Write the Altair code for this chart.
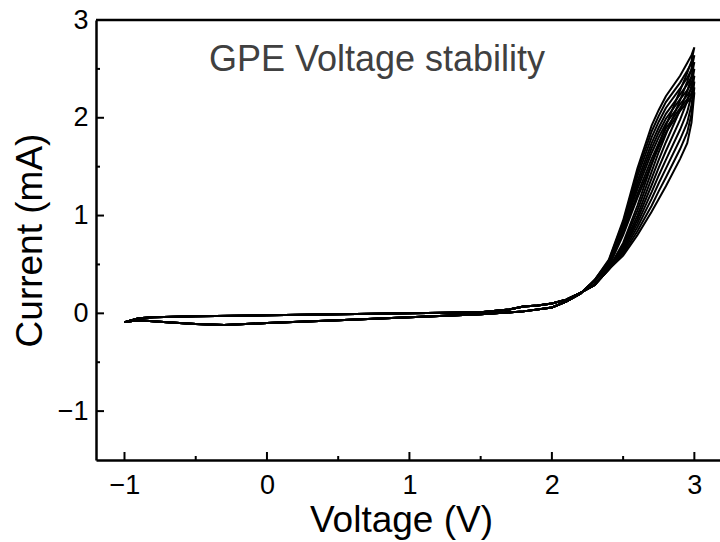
import altair as alt
import pandas as pd

# ---- data ----
V_high = [2.3, 2.4, 2.5, 2.6, 2.7, 2.75, 2.8, 2.9, 2.95, 2.98, 3.0]

# forward scans (increasing V), one list per cycle
fwd_high = [
    [0.29, 0.46, 0.72, 1.10, 1.52, 1.73, 1.92, 2.28, 2.46, 2.58, 2.72],
    [0.29, 0.46, 0.70, 1.05, 1.45, 1.65, 1.83, 2.18, 2.37, 2.50, 2.64],
    [0.29, 0.46, 0.68, 1.00, 1.38, 1.57, 1.75, 2.08, 2.27, 2.42, 2.57],
    [0.29, 0.46, 0.66, 0.96, 1.31, 1.49, 1.66, 1.98, 2.17, 2.33, 2.50],
    [0.29, 0.45, 0.65, 0.92, 1.24, 1.41, 1.57, 1.88, 2.06, 2.23, 2.43],
    [0.29, 0.45, 0.63, 0.88, 1.17, 1.33, 1.48, 1.78, 1.95, 2.13, 2.37],
    [0.29, 0.45, 0.61, 0.84, 1.10, 1.25, 1.39, 1.68, 1.85, 2.04, 2.31],
    [0.29, 0.45, 0.59, 0.80, 1.04, 1.17, 1.30, 1.58, 1.74, 1.95, 2.26],
]
# reverse scans, values listed at the same (increasing) V grid
rev_high = [
    [0.34, 0.55, 0.95, 1.48, 1.92, 2.08, 2.22, 2.43, 2.56, 2.64, 2.72],
    [0.34, 0.54, 0.93, 1.44, 1.86, 2.02, 2.16, 2.36, 2.48, 2.56, 2.64],
    [0.34, 0.53, 0.91, 1.40, 1.80, 1.96, 2.10, 2.30, 2.41, 2.49, 2.57],
    [0.33, 0.52, 0.89, 1.35, 1.74, 1.90, 2.04, 2.24, 2.34, 2.42, 2.50],
    [0.33, 0.51, 0.87, 1.31, 1.69, 1.85, 1.99, 2.19, 2.28, 2.36, 2.43],
    [0.33, 0.50, 0.85, 1.27, 1.64, 1.80, 1.94, 2.14, 2.23, 2.30, 2.37],
    [0.33, 0.49, 0.82, 1.22, 1.58, 1.74, 1.89, 2.10, 2.19, 2.25, 2.31],
    [0.33, 0.48, 0.80, 1.18, 1.53, 1.70, 1.85, 2.07, 2.16, 2.21, 2.26],
]

V_base_fwd = [-1.0, -0.9, -0.8, -0.5, 0.0, 0.5, 1.0, 1.5, 1.7, 1.8, 1.9, 2.0, 2.1, 2.2]
I_base_fwd = [-0.09, -0.05, -0.04, -0.03, -0.02, -0.01, 0.0, 0.01, 0.04, 0.07, 0.08, 0.10, 0.14, 0.21]
V_base_rev = [2.2, 2.1, 2.0, 1.8, 1.5, 1.0, 0.5, 0.0, -0.3, -0.5, -0.7, -0.9, -1.0]
I_base_rev = [0.20, 0.12, 0.06, 0.02, -0.01, -0.04, -0.07, -0.10, -0.12, -0.11, -0.09, -0.07, -0.09]

x_major = [-1, 0, 1, 2, 3]
x_minor = [-0.5, 0.5, 1.5, 2.5]
y_major = [-1, 0, 1, 2]
y_minor = [-0.5, 0.5, 1.5, 2.5]
y_labels = [-1, 0, 1, 2, 3]

# ---- build table ----
rows = []
for c, (f, r) in enumerate(zip(fwd_high, rev_high)):
    pts = list(zip(V_base_fwd, I_base_fwd)) + list(zip(V_high, f)) \
        + list(zip(V_high[::-1][1:], r[::-1][1:])) + list(zip(V_base_rev, I_base_rev))
    for i, (v, cur) in enumerate(pts):
        rows.append({"cycle": c, "order": i, "V": v, "I": cur})
df = pd.DataFrame(rows)

W, H = 624, 440
XD = [-1.2, 3.18]
YD = [-1.5, 3.0]
FONT = "Liberation Sans"

xs = alt.Scale(domain=XD, nice=False, zero=False)
ys = alt.Scale(domain=YD, nice=False, zero=False)

xaxis = alt.Axis(values=x_major, ticks=False, grid=False, labelFontSize=27,
                 titleFontSize=37, titleFontWeight="normal", labelPadding=12,
                 titlePadding=4, domainColor="black", domainWidth=2.5,
                 labelColor="black", titleColor="black", labelFont=FONT,
                 titleFont=FONT, format="d", titleX=305)
yaxis = alt.Axis(values=y_labels, ticks=False, grid=False, labelFontSize=27,
                 titleFontSize=37, titleFontWeight="normal", labelPadding=8,
                 titlePadding=8, domainColor="black", domainWidth=2.5,
                 labelColor="black", titleColor="black", labelFont=FONT,
                 titleFont=FONT, format="d")
XT = "Voltage (V)"
YT = "Current (mA)"

lines = alt.Chart(df).mark_line(color="black", strokeWidth=2, clip=True).encode(
    x=alt.X("V:Q", scale=xs, title=XT, axis=xaxis),
    y=alt.Y("I:Q", scale=ys, title=YT, axis=yaxis),
    detail="cycle:N",
    order="order:Q",
)

xmaj = alt.Chart(pd.DataFrame({"V": x_major})).mark_rule(color="black", strokeWidth=2).encode(
    x=alt.X("V:Q", scale=xs, title=XT, axis=xaxis), y=alt.value(H), y2=alt.value(H - 8))
xmin = alt.Chart(pd.DataFrame({"V": x_minor})).mark_rule(color="black", strokeWidth=2).encode(
    x=alt.X("V:Q", scale=xs, title=XT, axis=xaxis), y=alt.value(H), y2=alt.value(H - 4))
ymaj = alt.Chart(pd.DataFrame({"I": y_major})).mark_rule(color="black", strokeWidth=2).encode(
    y=alt.Y("I:Q", scale=ys, title=YT, axis=yaxis), x=alt.value(0), x2=alt.value(8))
ymin = alt.Chart(pd.DataFrame({"I": y_minor})).mark_rule(color="black", strokeWidth=2).encode(
    y=alt.Y("I:Q", scale=ys, title=YT, axis=yaxis), x=alt.value(0), x2=alt.value(4))

top = alt.Chart(alt.Data(values=[{}])).mark_rule(color="black", strokeWidth=2.5).encode(
    x=alt.value(0), x2=alt.value(W), y=alt.value(0))

label = alt.Chart(alt.Data(values=[{"t": "GPE Voltage stability"}])).mark_text(
    fontSize=36, font=FONT, color="#404040", align="center", baseline="alphabetic").encode(
    x=alt.value(281), y=alt.value(51), text="t:N")

chart = alt.layer(lines, xmaj, xmin, ymaj, ymin, top, label).properties(
    width=W, height=H,
    padding={"left": 96, "top": 20, "right": 0, "bottom": 82},
    autosize=alt.AutoSizeParams(type="none"),
).configure_view(strokeWidth=0).configure(background="white")

chart.save("out.html", embed_options={"renderer": "svg", "actions": False})
